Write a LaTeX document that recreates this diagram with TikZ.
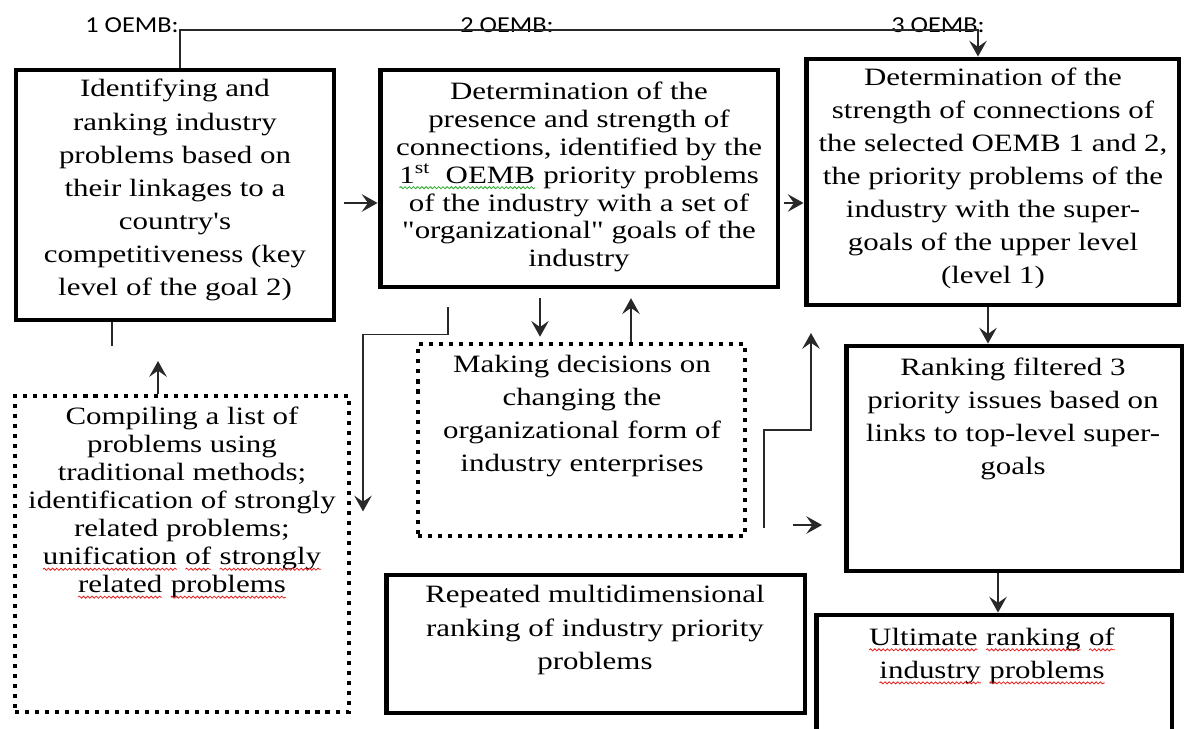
\documentclass[tikz,border=0pt]{standalone}
\usepackage{fontspec}
\setmainfont{Liberation Serif}[FakeStretch=1.24, Ligatures=TeXOff]
\newfontfamily\tagfont{Carlito}[FakeStretch=1.15]
\usetikzlibrary{arrows.meta,decorations.pathmorphing}

\definecolor{wavered}{RGB}{230,30,30}
\definecolor{wavegreen}{RGB}{40,170,40}
\definecolor{linkgray}{RGB}{40,40,40}

\tikzset{
  frame/.style={draw=black, line width=2.8pt},
  dotframe/.style={draw=black, line width=2.3pt, dash pattern=on 2.3pt off 3.4pt},
  boxtext/.style={align=center, inner sep=0pt, font=\fontsize{14.2}{18.8}\selectfont},
  boxtext-tight/.style={boxtext, font=\fontsize{14.2}{15.9}\selectfont},
  oemb/.style={anchor=base, inner sep=0pt, font=\tagfont\fontsize{13}{15}\selectfont},
  link/.style={draw=linkgray, line width=0.9pt},
  arrow/.style={link, -{Stealth[length=9pt,width=10pt,inset=3.5pt]}},
  squiggle/.style={line width=0.45pt, decorate,
    decoration={snake, amplitude=0.6pt, segment length=2.4pt}}
}

% spell-check style wavy underlines
\newcommand{\wavyword}[2]{\tikz[baseline=(w.base)]{%
  \node[inner sep=0pt, outer sep=0pt] (w) {#2};
  \draw[squiggle, #1] ([yshift=-2.6pt]w.base west) -- ([yshift=-2.6pt]w.base east);}}
\newcommand{\spellwave}[1]{\wavyword{wavered}{#1}}
\newcommand{\grammarwave}[1]{\wavyword{wavegreen}{#1}}

\begin{document}
\begin{tikzpicture}[x=0.02cm, y=-0.02cm]
  \useasboundingbox (0,0) rectangle (1189,729);
  \clip (0,0) rectangle (1189,729);

  % OEMB stage tags
  \node[oemb] (tag1) at (132,33) {1 OEMB:};
  \node[oemb] (tag2) at (507,33) {2 OEMB:};
  \node[oemb] (tag3) at (938,33) {3 OEMB:};
  \coordinate (bus) at (0,30);

  % solid boxes
  \node[frame, minimum width=6.36cm, minimum height=5cm] (ident) at (175,195) {};
  \node[frame, minimum width=7.96cm, minimum height=4.34cm] (presence) at (579,178.5) {};
  \node[frame, minimum width=7.46cm, minimum height=4.92cm] (strength) at (992.5,182) {};
  \node[frame, minimum width=6.72cm, minimum height=4.5cm] (filtered) at (1014,458.5) {};
  \node[frame, minimum width=8.38cm, minimum height=2.76cm] (repeated) at (595.5,644) {};
  \node[frame, minimum width=7.12cm, minimum height=2.9cm] (ultimate) at (994,687.5) {};
  % dotted boxes
  \node[dotframe, minimum width=6.68cm, minimum height=6.32cm] (compile) at (182,554) {};
  \node[dotframe, minimum width=6.54cm, minimum height=3.84cm] (decide) at (581.5,440) {};

  % box texts
  \node[boxtext] (ident-text) at (175,190) {Identifying and\\ranking industry\\problems based on\\their linkages to a\\country's\\competitiveness (key\\level of the goal 2)};
  \node[boxtext-tight] (presence-text) at (579,177) {Determination of the\\presence and strength of\\connections, identified by the\\\grammarwave{1\textsuperscript{st}\ \ OEMB} priority problems\\of the industry with a set of\\"organizational" goals of the\\industry};
  \node[boxtext] (strength-text) at (993,178.5) {Determination of the\\strength of connections of\\the selected OEMB 1 and 2,\\the priority problems of the\\industry with the super-\\goals of the upper level\\(level 1)};
  \node[boxtext] (filtered-text) at (1013,419) {Ranking filtered 3\\priority issues based on\\links to top-level super-\\goals};
  \node[boxtext] (decide-text) at (582,416) {Making decisions on\\changing the\\organizational form of\\industry enterprises};
  \node[boxtext-tight] (compile-text) at (182,503) {Compiling a list of\\problems using\\traditional methods;\\identification of strongly\\related problems;\\\spellwave{unification} \spellwave{of} \spellwave{strongly}\\\spellwave{related} \spellwave{problems}};
  \node[boxtext] (repeated-text) at (595,630) {Repeated multidimensional\\ranking of industry priority\\problems};
  \node[boxtext] (ultimate-text) at (992,656) {\spellwave{Ultimate} \spellwave{ranking} \spellwave{of}\\\spellwave{industry} \spellwave{problems}};

  % bus along the top
  \draw[arrow] ([xshift=0.1cm]ident.north) -- ([xshift=0.1cm]ident.north |- bus) -| ([xshift=-0.29cm]strength.north);
  \draw[link] ([xshift=-1.26cm]ident.south) -- ++(0,24);
  \draw[arrow] ([xshift=-0.48cm]compile.north) -- ++(0,-33);

  % main chain
  \draw[arrow, shorten <=4.3pt] (ident.east |- 0,203) -- (presence.west |- 0,203);
  \draw[arrow, shorten <=2pt] (presence.east |- 0,203) -- (strength.west |- 0,203);
  \draw[arrow] (strength.south -| 988,0) -- (filtered.north -| 988,0);
  \draw[arrow] (filtered.south -| 998,0) -- (ultimate.north -| 998,0);

  % links around the decision box
  \draw[arrow, shorten <=5pt, shorten >=3pt] (presence.south -| 540,0) -- (decide.north -| 540,0);
  \draw[arrow, shorten >=5pt] (decide.north -| 631,0) -- (presence.south -| 631,0);
  \draw[arrow, shorten <=10pt] (presence.south -| 448,0) -- ++(0,45) -- ++(-85,0) -- ++(0,177);
  \draw[arrow] ([xshift=0.34cm]decide.east |- 0,528) -- ++(0,-98) -- ++(47,0) -- ++(0,-97);
  \draw[arrow] ([xshift=-1.01cm]filtered.west |- 0,525) -- ([xshift=-0.43cm]filtered.west |- 0,525);
\end{tikzpicture}
\end{document}
